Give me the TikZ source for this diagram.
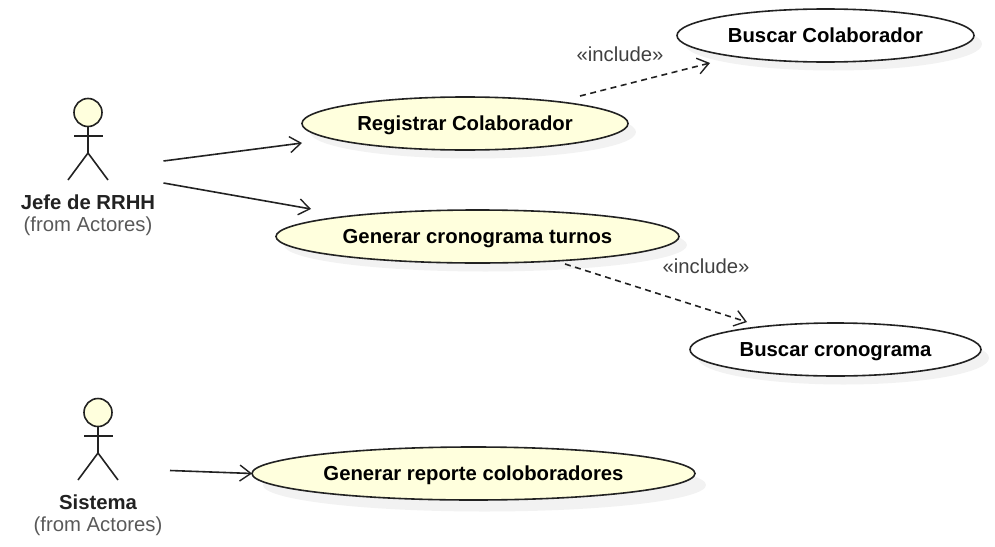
\documentclass[tikz,border=0pt]{standalone}
\usepackage{fontspec}
\setmainfont{Liberation Sans}
\usetikzlibrary{arrows.meta,shapes.geometric}
\definecolor{ucfill}{HTML}{FFFFDD}
\definecolor{ucshadow}{HTML}{F2F2F2}
\definecolor{inkc}{HTML}{222222}
\tikzset{
  usecase/.style={ellipse,draw=inkc,line width=1.6pt,inner sep=0pt,outer sep=0pt,font=\fontsize{20.3}{24}\selectfont\bfseries,text=black,text height=16pt,text depth=2pt},
  shadowcase/.style={ellipse,fill=ucshadow,draw=none,inner sep=0pt,outer sep=0pt},
  head/.style={circle,draw=inkc,fill=ucfill,line width=1.6pt,minimum size=28pt,inner sep=0pt,outer sep=0pt},
  limb/.style={draw=inkc,line width=1.6pt},
  assoc/.style={draw=inkc,line width=1.6pt,-{Straight Barb[length=11pt,width=16pt,line width=1.4pt]}},
  dep/.style={assoc,dash pattern=on 6pt off 4.5pt},
  actorname/.style={font=\fontsize{20.3}{24}\selectfont\bfseries,text=inkc,inner sep=0pt},
  actorfrom/.style={font=\fontsize{20.3}{24}\selectfont,text=black!65,inner sep=0pt},
  stereo/.style={font=\fontsize{20.3}{24}\selectfont,text=black!75,inner sep=0pt}
}
\begin{document}
\begin{tikzpicture}[x=1pt,y=-1pt]
\useasboundingbox (0,0) rectangle (995,546);
% shadows
\node[shadowcase,minimum width=297pt,minimum height=53pt] at (833.5,44) {};
\node[shadowcase,minimum width=326pt,minimum height=53pt] at (473,132) {};
\node[shadowcase,minimum width=403pt,minimum height=53pt] at (485.5,245) {};
\node[shadowcase,minimum width=291pt,minimum height=53pt] at (843.5,358) {};
\node[shadowcase,minimum width=443pt,minimum height=53pt] at (484.5,485) {};
% use cases
\node[usecase,fill=white,minimum width=297pt,minimum height=53pt] (bcol) at (825.5,35.5) {Buscar Colaborador};
\node[usecase,fill=ucfill,minimum width=326pt,minimum height=53pt] (rcol) at (465,123.5) {Registrar Colaborador};
\node[usecase,fill=ucfill,minimum width=403pt,minimum height=53pt] (gcro) at (477.5,236.5) {Generar cronograma turnos};
\node[usecase,fill=white,minimum width=291pt,minimum height=53pt] (bcro) at (835.5,349.5) {Buscar cronograma};
\node[usecase,fill=ucfill,minimum width=443pt,minimum height=53pt] (grep) at (473.5,473.5) {Generar reporte coloboradores};
% actor 1
\node[head] (jefe) at (88,112.5) {};
\draw[limb] (jefe.south) -- (88,153) -- (68,180);
\draw[limb] (88,153) -- (108,180);
\draw[limb] (74,136) -- (103,136);
\node[actorname] (jefename) at (88,202) {Jefe de RRHH};
\node[actorfrom] (jefefrom) at (88,226) {(from Actores)};
% actor 2
\node[head] (sis) at (98,412.5) {};
\draw[limb] (sis.south) -- (98,453) -- (78,480);
\draw[limb] (98,453) -- (118,480);
\draw[limb] (84,436) -- (113,436);
\node[actorname] (sisname) at (98,502) {Sistema};
\node[actorfrom] (sisfrom) at (98,526) {(from Actores)};
% connector ends
\coordinate (a1s) at (163.5,161);
\coordinate (a1e) at (302,143);
\coordinate (a2s) at (163.5,183);
\coordinate (a2e) at (311,209);
\coordinate (a3s) at (170,470.5);
\coordinate (d1s) at (580,96);
\coordinate (d1e) at (710,63);
\coordinate (d2s) at (565,264);
\coordinate (d2e) at (747,322);
\draw[assoc] (a1s) -- (a1e);
\draw[assoc] (a2s) -- (a2e);
\draw[assoc] (a3s) -- (grep.west);
\draw[dep] (d1s) -- (d1e);
\draw[dep] (d2s) -- (d2e);
\node[stereo] (inc1) at (620,54) {«include»};
\node[stereo] (inc2) at (706,266.5) {«include»};
\end{tikzpicture}
\end{document}
